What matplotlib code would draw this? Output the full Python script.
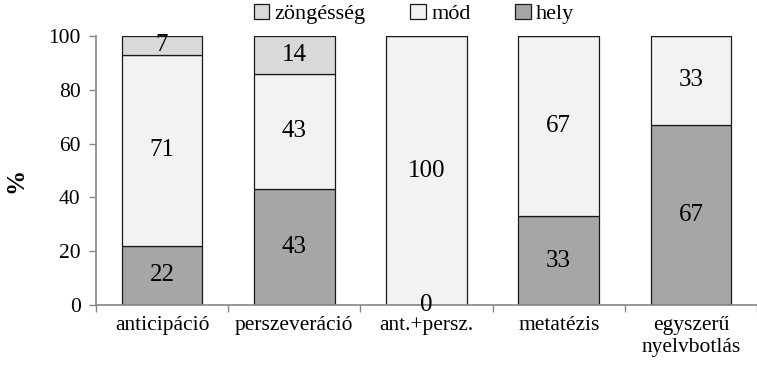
import matplotlib.pyplot as plt
import numpy as np
from matplotlib.patches import Patch

categories = ["anticipáció", "perszeveráció", "ant.+persz.", "metatézis", "egyszerű\nnyelvbotlás"]
hely = [22, 43, 0, 33, 67]
mod = [71, 43, 100, 67, 33]
zongesseg = [7, 14, 0, 0, 0]

plt.rcParams["font.family"] = ["Liberation Serif", "DejaVu Serif"]

fig = plt.figure(figsize=(7.57, 3.69), dpi=100)
ax = fig.add_axes([96 / 757, 64 / 369, (757 - 96) / 757, 269 / 369])

x = np.arange(len(categories))
w = 0.61
edge = dict(edgecolor="#1a1a1a", linewidth=0.9)
ax.bar(x, hely, w, color="#a6a6a6", **edge)
ax.bar(x, mod, w, bottom=hely, color="#f2f2f2", **edge)
bottom2 = np.array(hely) + np.array(mod)
ax.bar(x, zongesseg, w, bottom=bottom2, color="#d9d9d9", **edge)

fs = 18
for i in range(len(x)):
    ax.text(x[i], hely[i] / 2, str(hely[i]), ha="center", va="center", fontsize=fs)
    ax.text(x[i], hely[i] + mod[i] / 2, str(mod[i]), ha="center", va="center", fontsize=fs)
    if zongesseg[i] > 0:
        ax.text(x[i], bottom2[i] + zongesseg[i] / 2, str(zongesseg[i]),
                ha="center", va="center", fontsize=fs)

ax.set_ylim(0, 100)
ax.set_xlim(-0.5, 4.5 - 7 / 133.6)
ax.set_yticks(range(0, 101, 20))
ax.set_xticks(np.arange(-0.5, 5.0, 1.0))
ax.set_xticklabels([])
ax.set_xticks(x, minor=True)
ax.set_xticklabels(categories, minor=True)
ax.tick_params(axis="x", which="minor", length=0, pad=8, labelsize=15.5, labelcolor="black")
ax.tick_params(axis="x", which="major", length=5, color="#868686", width=1)
ax.tick_params(axis="y", length=5, color="#868686", width=1, labelsize=15.5, pad=6)

for s in ["top", "right"]:
    ax.spines[s].set_visible(False)
for s in ["left", "bottom"]:
    ax.spines[s].set_color("#868686")
    ax.spines[s].set_linewidth(1.2)

# y axis title placed by hand so it stays inside the figure
fig.text(16 / 757, 1 - 180 / 369, "%", rotation=90, ha="center", va="center",
         fontsize=18, fontweight="bold")

handles = [
    Patch(facecolor="#d9d9d9", **edge, label="zöngésség"),
    Patch(facecolor="#f2f2f2", **edge, label="mód"),
    Patch(facecolor="#a6a6a6", **edge, label="hely"),
]
fig.legend(handles=handles, loc="center", bbox_to_anchor=(414 / 757, 1 - 14 / 369),
           ncol=3, frameon=False, fontsize=16, handlelength=0.7, handleheight=0.7,
           handletextpad=0.25, columnspacing=2.0, borderaxespad=0)

fig.savefig("out.png", dpi=100)
